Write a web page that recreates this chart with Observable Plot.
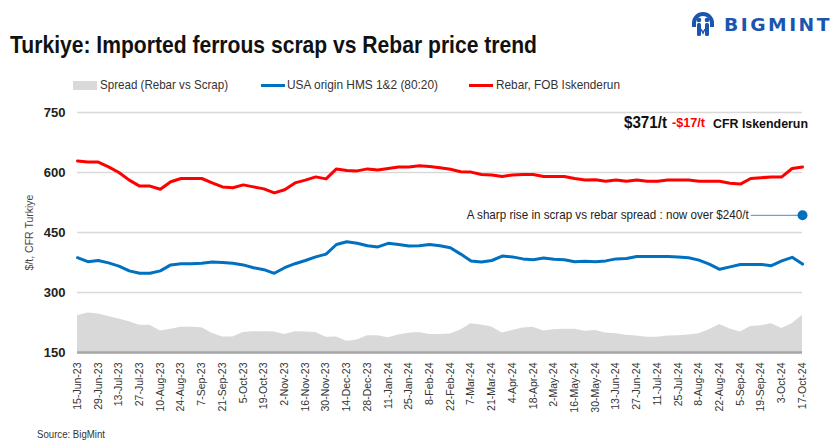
<!DOCTYPE html>
<html>
<head>
<meta charset="utf-8">
<script src="https://cdn.jsdelivr.net/npm/d3@7"></script>
<script src="https://cdn.jsdelivr.net/npm/@observablehq/plot@0.6"></script>
<style>
  html, body { margin: 0; padding: 0; background: #fff; }
  body { width: 836px; height: 442px; position: relative; overflow: hidden; font-family: "Liberation Sans", Arial, sans-serif; }
  .fit { position: absolute; white-space: nowrap; transform-origin: 0 50%; }
  .title { left: 10px; top: 31px; font-weight: bold; font-size: 24px; color: #111; }
  .logoicon { position: absolute; left: 691px; top: 11px; }
  .logotext { left: 724px; top: 14px; font-family: "DejaVu Sans", sans-serif; font-weight: bold; font-size: 18px; color: #1a56b0; letter-spacing: 2.4px; }
  .sw { position: absolute; width: 24px; }
  .leg { font-size: 13.5px; color: #333; top: 77px; }
  .source { left: 37px; top: 428px; font-size: 11.5px; color: #333; }
  .pr { top: 115px; font-weight: bold; color: #111; }
  #chart { position: absolute; left: 0; top: 95px; }
</style>
</head>
<body>
<div class="fit title" data-w="527">Turkiye: Imported ferrous scrap vs Rebar price trend</div>
<svg class="logoicon" width="24" height="27" viewBox="0 0 24 27">
  <path d="M12 1 A11 11 0 0 1 23 12 L23 16 L19 16 L19 12 A7 7 0 0 0 5 12 L5 16 L1 16 L1 12 A11 11 0 0 1 12 1 Z" fill="#1a56b0"/>
  <circle cx="8" cy="9" r="2.3" fill="#1a56b0"/>
  <circle cx="16" cy="9" r="2.3" fill="#1a56b0"/>
  <rect x="6" y="12" width="4" height="13" rx="1.5" fill="#1a56b0"/>
  <rect x="14" y="12" width="4" height="13" rx="1.5" fill="#1a56b0"/>
  <path d="M10 18 L12 22 L14 18" stroke="#1a56b0" stroke-width="1.5" fill="none"/>
</svg>
<div class="fit logotext" data-w="108">BIGMINT</div>
<span class="sw" style="left:73px;top:81px;height:9px;background:#d9d9d9"></span>
<div class="fit leg" style="left:100px" data-w="128">Spread (Rebar vs Scrap)</div>
<span class="sw" style="left:261px;top:84px;height:3px;background:#0070c0"></span>
<div class="fit leg" style="left:287px" data-w="151">USA origin HMS 1&amp;2 (80:20)</div>
<span class="sw" style="left:469px;top:84px;height:3px;background:#ff0000"></span>
<div class="fit leg" style="left:496px" data-w="124">Rebar, FOB Iskenderun</div>
<div id="p1" class="fit pr" style="left:624px;font-size:17px;top:113px" data-w="43"></div>
<div id="p2" class="fit pr" style="left:672px;font-size:12.5px;color:#ff0000;top:116px" data-w="33"></div>
<div class="fit pr" style="left:713px;font-size:13.5px;top:116px" data-w="95">CFR Iskenderun</div>
<div id="chart"></div>
<div class="fit source" data-w="68">Source: BigMint</div>
<script>
// Weekly dates (Thursdays)
const weeks = [
  "15-Jun-23","22-Jun-23","29-Jun-23","6-Jul-23","13-Jul-23","20-Jul-23","27-Jul-23",
  "3-Aug-23","10-Aug-23","17-Aug-23","24-Aug-23","31-Aug-23","7-Sep-23","14-Sep-23",
  "21-Sep-23","28-Sep-23","5-Oct-23","12-Oct-23","19-Oct-23","26-Oct-23","2-Nov-23",
  "9-Nov-23","16-Nov-23","23-Nov-23","30-Nov-23","7-Dec-23","14-Dec-23","21-Dec-23",
  "28-Dec-23","4-Jan-24","11-Jan-24","18-Jan-24","25-Jan-24","1-Feb-24","8-Feb-24",
  "15-Feb-24","22-Feb-24","29-Feb-24","7-Mar-24","14-Mar-24","21-Mar-24","28-Mar-24",
  "4-Apr-24","11-Apr-24","18-Apr-24","25-Apr-24","2-May-24","9-May-24","16-May-24",
  "23-May-24","30-May-24","6-Jun-24","13-Jun-24","20-Jun-24","27-Jun-24","4-Jul-24",
  "11-Jul-24","18-Jul-24","25-Jul-24","1-Aug-24","8-Aug-24","15-Aug-24","22-Aug-24",
  "29-Aug-24","5-Sep-24","12-Sep-24","19-Sep-24","26-Sep-24","3-Oct-24","10-Oct-24","17-Oct-24"
];
// Rebar, FOB Iskenderun ($/t)
const rebar = [
  629,626,626,614,600,581,566,566,558,577,585,585,585,574,564,562,569,564,559,549,
  557,574,581,589,584,609,605,604,609,606,610,614,614,617,615,612,608,602,601,595,
  594,590,594,595,595,590,590,590,585,581,582,578,581,578,581,578,578,581,581,581,
  578,578,578,573,571,585,587,589,589,610,614
];
// USA origin HMS 1&2 (80:20), CFR Turkiye ($/t)
const scrap = [
  387,377,380,374,366,354,348,348,354,369,372,372,373,376,375,373,369,362,357,348,
  362,372,380,389,396,420,427,423,417,414,423,420,416,417,420,417,412,396,379,376,
  380,391,389,384,382,386,383,382,377,378,377,379,384,385,390,390,390,390,389,387,
  381,371,358,364,370,370,370,367,379,388,371
];
const yTicks = [150, 300, 450, 600, 750];
const annotationText = "A sharp rise in scrap vs rebar spread : now over $240/t";
const annotationLevel = 493;

// x is the week's position in the weekly series; labels come from `weeks`
const data = weeks.map((w, i) => ({i, week: w, rebar: rebar[i], scrap: scrap[i], spread: rebar[i] - scrap[i]}));
const last = weeks.length - 1;
const xTicks = weeks.map((w, i) => i).filter(i => i % 2 === 0);

const lastPrice = scrap[last];
const change = scrap[last] - scrap[last - 1];
document.getElementById("p1").textContent = `$${lastPrice}/t`;
document.getElementById("p2").textContent = `${change < 0 ? "-" : "+"}$${Math.abs(change)}/t`;

const anno = [{x1: last - 5, x2: last, y: annotationLevel, text: annotationText}];

const chart = Plot.plot({
  width: 836,
  height: 320,
  marginTop: 17,
  marginBottom: 63,
  marginLeft: 77,
  marginRight: 34,
  style: {fontFamily: "Liberation Sans, Arial, sans-serif", background: "transparent"},
  x: {domain: [0, last]},
  y: {domain: [150, 750]},
  marks: [
    Plot.gridY(yTicks, {stroke: "#d9d9d9", strokeOpacity: 1, strokeWidth: 1.5}),
    Plot.areaY(data, {x: "i", y1: 150, y2: "spread", fill: "#d9d9d9"}),
    Plot.ruleY([150], {stroke: "#a6a6a6", strokeWidth: 2.5}),
    Plot.lineY(data, {x: "i", y: "rebar", stroke: "#ff0000", strokeWidth: 3}),
    Plot.lineY(data, {x: "i", y: "scrap", stroke: "#0070c0", strokeWidth: 3}),
    Plot.link(anno, {x1: "x1", x2: "x2", y1: "y", y2: "y", stroke: "#4a86d4", strokeWidth: 1}),
    Plot.dot(anno, {x: "x2", y: "y", r: 5, fill: "#0070c0"}),
    Plot.text(anno, {x: "x1", y: "y", text: "text", textAnchor: "end", dx: -2, fontSize: 13, fill: "#222", className: "anno-text"}),
    Plot.axisY({ticks: yTicks, tickSize: 0, tickPadding: 12, fontSize: 13, fontWeight: "bold", color: "#222",
      label: "$/t, CFR Turkiye", labelAnchor: "center", labelArrow: "none", labelOffset: 52}),
    Plot.axisX({ticks: xTicks, tickFormat: i => weeks[i], tickSize: 0, tickPadding: 10, tickRotate: -90, fontSize: 10.5, color: "#333", label: null})
  ]
});
document.getElementById("chart").appendChild(chart);
chart.querySelectorAll("[aria-label='y-axis label'] text").forEach(t => { t.setAttribute("font-size", "10.5"); t.setAttribute("font-weight", "normal"); t.setAttribute("fill", "#444"); });
chart.querySelectorAll(".anno-text text").forEach(t => { t.setAttribute("textLength", "282"); t.setAttribute("lengthAdjust", "spacingAndGlyphs"); });

// fit HTML texts to their measured widths in the reference
document.querySelectorAll(".fit").forEach(el => {
  const target = +el.dataset.w;
  const w = el.getBoundingClientRect().width;
  if (target && w) el.style.transform = `scaleX(${target / w})`;
});
</script>
</body>
</html>
